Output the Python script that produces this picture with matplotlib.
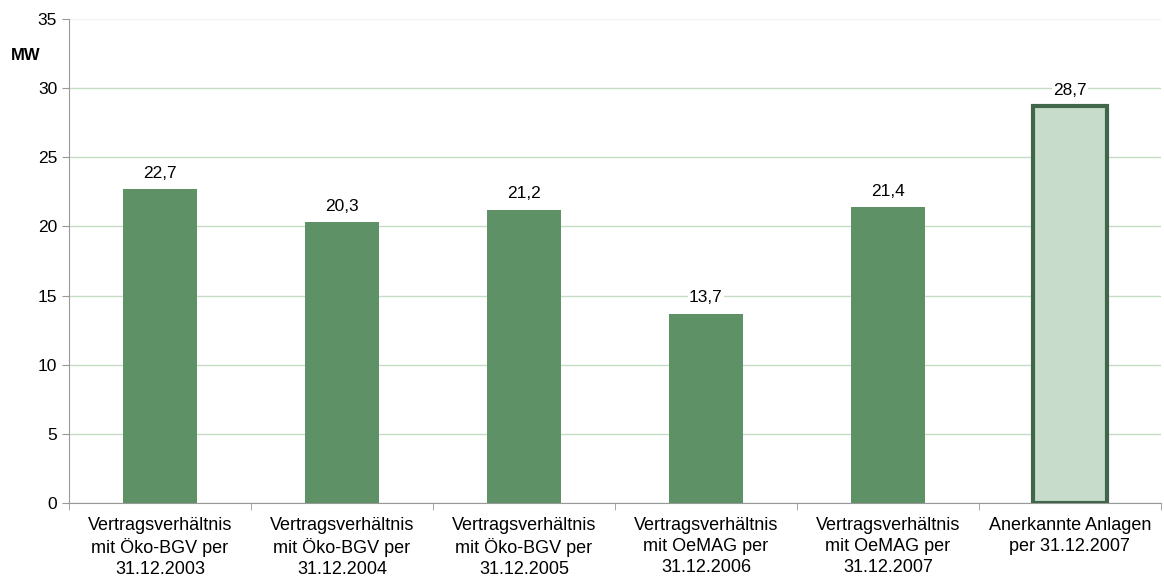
import numpy as np
from matplotlib import pyplot as plt

plt.rcParams['font.family'] = ['Liberation Sans', 'DejaVu Sans']

categories = ["Vertragsverhältnis\nmit Öko-BGV per\n31.12.2003",
              "Vertragsverhältnis\nmit Öko-BGV per\n31.12.2004",
              "Vertragsverhältnis\nmit Öko-BGV per\n31.12.2005",
              "Vertragsverhältnis\nmit OeMAG per\n31.12.2006",
              "Vertragsverhältnis\nmit OeMAG per\n31.12.2007",
              "Anerkannte Anlagen\nper 31.12.2007"]
values = [22.7, 20.3, 21.2, 13.7, 21.4, 28.7]
value_labels = ["22,7", "20,3", "21,2", "13,7", "21,4", "28,7"]

fig = plt.figure(figsize=(11.64, 5.84), dpi=100)
ax = fig.add_axes([0.0593, 0.1387, 0.938, 0.8288])

x = np.arange(len(values))
colors = ['#5f9167'] * 5 + ['#c8dccb']
edges = ['#5f9167'] * 5 + ['#41664a']
lws = [0] * 5 + [3]
for xi, v, c, e, lw in zip(x, values, colors, edges, lws):
    ax.bar(xi, v, width=0.41, color=c, edgecolor=e, linewidth=lw, zorder=3)

for xi, v, lab in zip(x, values, value_labels):
    ax.annotate(lab, (xi, v), xytext=(0, 6), textcoords='offset points',
                ha='center', va='bottom', fontsize=12.5, zorder=4,
                bbox=dict(facecolor='white', edgecolor='none', pad=1))

ax.set_xlim(-0.5, len(values) - 0.5)
ax.set_ylim(0, 35)
ax.set_yticks(np.arange(0, 36, 5))
ax.yaxis.grid(True, color='#c5dcc5', linewidth=1, zorder=0)
ax.get_ygridlines()[-1].set_color('#eef4ee')
ax.set_axisbelow(True)

ax.set_xticks(x)
ax.set_xticklabels(categories, fontsize=13, linespacing=1.3)
ax.set_xticks(np.arange(-0.5, len(values), 1), minor=True)
ax.tick_params(axis='x', which='major', length=0, pad=10)
ax.tick_params(axis='x', which='minor', length=5, color='#999999')
ax.tick_params(axis='y', length=5, color='#999999', labelsize=12.5)

for s in ['top', 'right']:
    ax.spines[s].set_visible(False)
for s in ['left', 'bottom']:
    ax.spines[s].set_color('#999999')

fig.text(0.009, 0.905, 'MW', fontsize=12, fontweight='bold', va='center')

fig.savefig('out.png', dpi=100)
